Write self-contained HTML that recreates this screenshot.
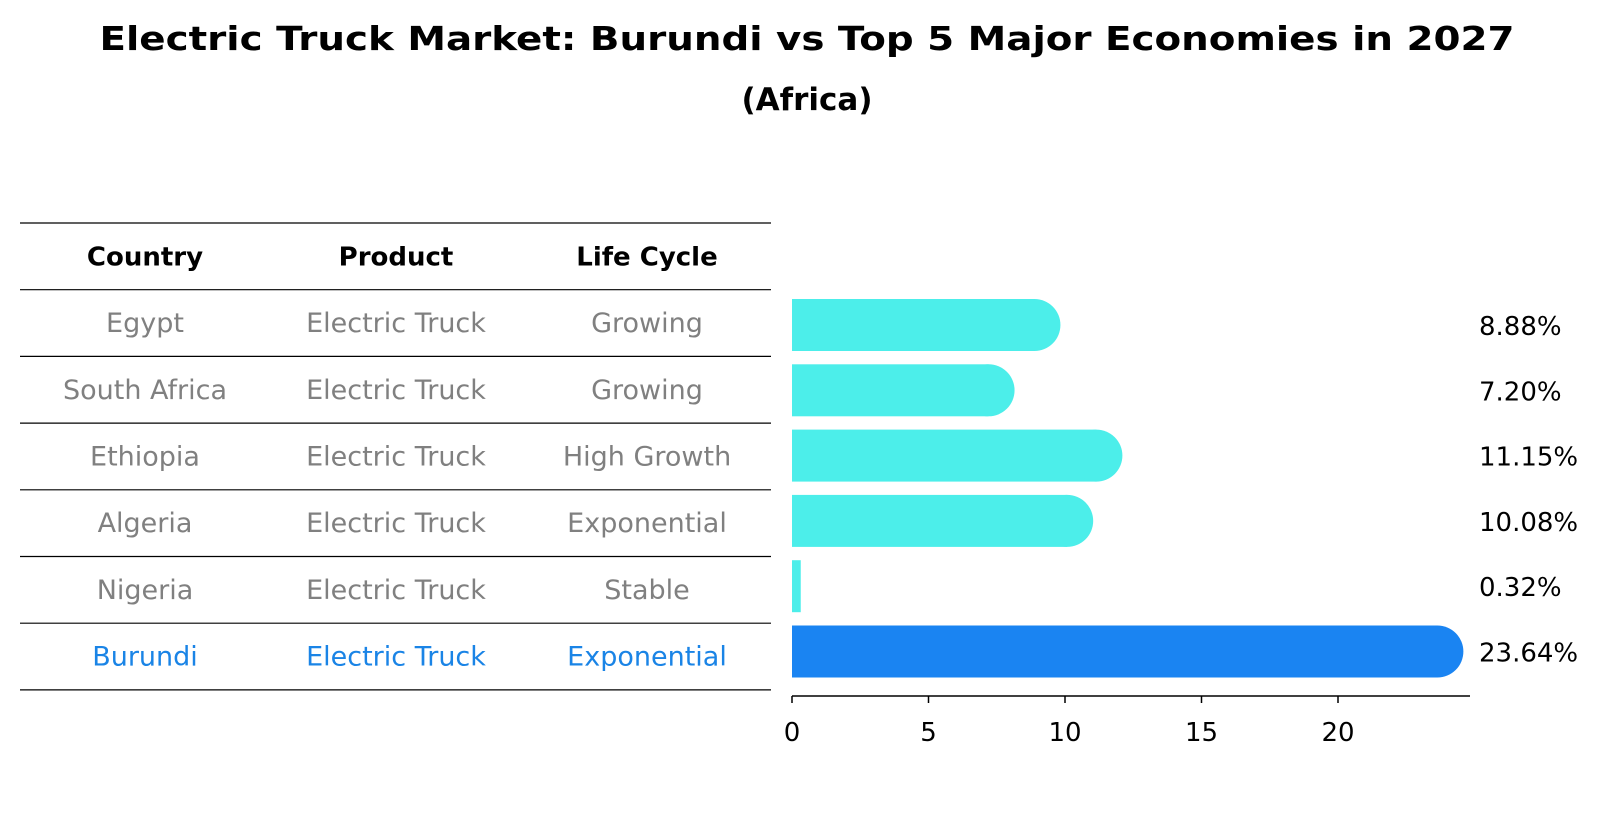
<!DOCTYPE html>
<html><head><meta charset="utf-8"><style>
html,body{margin:0;padding:0;background:#fff;}
svg{display:block;font-family:"DejaVu Sans","Liberation Sans",sans-serif;}
</style></head><body>
<svg id="chart" width="1604" height="823" viewBox="0 0 1604 823" xmlns="http://www.w3.org/2000/svg">
<text x="807" y="50" text-anchor="middle" font-size="33" font-weight="bold" textLength="1415" lengthAdjust="spacingAndGlyphs">Electric Truck Market: Burundi vs Top 5 Major Economies in 2027</text>
<text x="807" y="110" text-anchor="middle" font-size="31" font-weight="bold">(Africa)</text>
<g id="table"></g>
<g id="bars"></g>
</svg>
<script>
const countries=["Egypt","South Africa","Ethiopia","Algeria","Nigeria","Burundi"];
const products=["Electric Truck","Electric Truck","Electric Truck","Electric Truck","Electric Truck","Electric Truck"];
const lifeCycles=["Growing","Growing","High Growth","Exponential","Stable","Exponential"];
const values=[8.88,7.20,11.15,10.08,0.32,23.64];
const valueLabels=["8.88%","7.20%","11.15%","10.08%","0.32%","23.64%"];
const ticks=[0,5,10,15,20];
const highlight="Burundi";

const NS="http://www.w3.org/2000/svg";
function mk(tag,attrs,parent,text){const e=document.createElementNS(NS,tag);for(const k in attrs)e.setAttribute(k,attrs[k]);if(text!==undefined)e.textContent=text;parent.appendChild(e);return e;}
const table=document.getElementById('table');
const bars=document.getElementById('bars');
const rowTop=223,rowH=66.7,colX=[145,396,647];
const xScale=v=>792+v*((1338-792)/20);
const yCenter=i=>325+i*65.3;
const barH=52;

for(let i=0;i<=countries.length+1;i++){
  const l=mk('line',{x1:20,x2:771,y1:rowTop+i*rowH,y2:rowTop+i*rowH,stroke:'#000','stroke-width':1.2},table);
  
  
}
["Country","Product","Life Cycle"].forEach((h,j)=>{
  const t=mk('text',{x:colX[j],y:rowTop+rowH/2+9,'text-anchor':'middle','font-size':26,'font-weight':'bold'},table,h);
  
  
});
countries.forEach((c,i)=>{
  const col=c===highlight?'#1a84e6':'#808080';
  const cy=rowTop+rowH*(i+1)+rowH/2+9;
  [c,products[i],lifeCycles[i]].forEach((v,j)=>{
    const t=mk('text',{x:colX[j],y:cy,'text-anchor':'middle','font-size':27,fill:col},table,v);
    
    
  });
});

values.forEach((v,i)=>{
  const col=countries[i]===highlight?'#1a84f2':'#4ceeea';
  const x0=xScale(0),x1=xScale(v),cy=yCenter(i);
  const r=mk('rect',{x:x0,y:cy-barH/2,width:x1-x0,height:barH,fill:col},bars);
  
  
  if(v>1){
    const c=mk('circle',{cx:x1,cy:cy,r:barH/2,fill:col},bars);
    
    
  }
  const t=mk('text',{x:1479,y:cy+10,'font-size':26},bars,valueLabels[i]);
  
  
});
const ax=mk('line',{x1:792,x2:1470,y1:696,y2:696,stroke:'#000','stroke-width':1.5},bars);


ticks.forEach(t=>{
  const x=xScale(t);
  const tl=mk('line',{x1:x,x2:x,y1:696,y2:703,stroke:'#000','stroke-width':1.5},bars);
  
  
  const tx=mk('text',{x:x,y:741,'text-anchor':'middle','font-size':26},bars,String(t));
  
  
});
</script>
</body></html>
